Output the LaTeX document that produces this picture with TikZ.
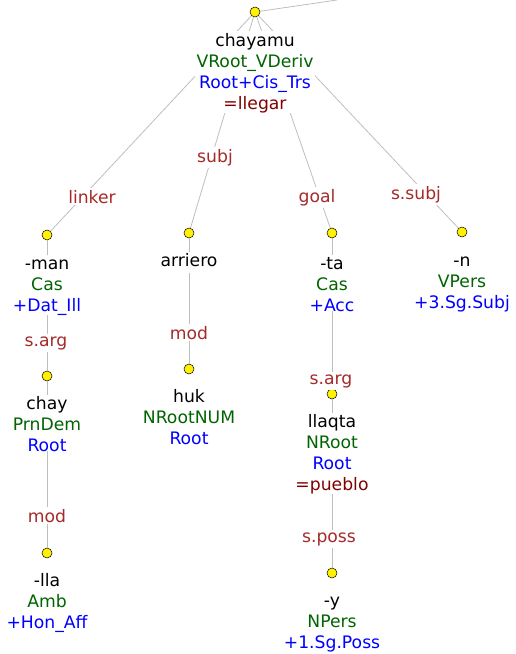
\documentclass[tikz,border=0pt]{standalone}
\usepackage{fontspec}
\setmainfont{DejaVu Sans}
\definecolor{grn}{RGB}{0,100,0}
\definecolor{blu}{RGB}{0,0,255}
\definecolor{drd}{RGB}{128,0,0}
\definecolor{lbl}{RGB}{165,42,42}
\definecolor{edg}{RGB}{190,190,190}
\newcommand\cgrn[1]{\textcolor{grn}{#1}}
\newcommand\cblu[1]{\textcolor{blu}{#1}}
\newcommand\cdrd[1]{\textcolor{drd}{#1}}
\tikzset{
  circ/.style={circle,draw=black,line width=0.5bp,fill=yellow,minimum size=10bp,inner sep=0},
  txt/.style={fill=white,inner xsep=2bp,inner ysep=0,align=center,anchor=north,
    font=\fontsize{17.2bp}{21bp}\selectfont},
  elab/.style={fill=white,inner xsep=2bp,inner ysep=2bp,anchor=base,text=lbl,
    font=\fontsize{17.2bp}{21bp}\selectfont},
  edge/.style={draw=edg,line width=0.8bp}
}
\begin{document}
\begin{tikzpicture}[x=1bp,y=-1bp]
\useasboundingbox (0,0) rectangle (516,654);
% circles
\node[circ] (r) at (255,12) {};
\node[circ] (man) at (47,235) {};
\node[circ] (chay) at (47,376) {};
\node[circ] (lla) at (47,553) {};
\node[circ] (arr) at (189,233) {};
\node[circ] (huk) at (189,369) {};
\node[circ] (ta) at (332,233) {};
\node[circ] (llq) at (332,394) {};
\node[circ] (y) at (332,573) {};
\node[circ] (n) at (462,232) {};
\coordinate (tr) at (337,0);
% edges
\draw[edge] (r) -- (tr);
\draw[edge] (r) -- (man);
\draw[edge] (r) -- (arr);
\draw[edge] (r) -- (ta);
\draw[edge] (r) -- (n);
\draw[edge] (man) -- (chay);
\draw[edge] (chay) -- (lla);
\draw[edge] (arr) -- (huk);
\draw[edge] (ta) -- (llq);
\draw[edge] (llq) -- (y);
% text blocks
\node[txt] (rt) at (255,31.3) {\strut chayamu\\\cgrn{VRoot\_VDeriv}\\\cblu{Root+Cis\_Trs}\\\cdrd{=llegar}};
\node[txt] (mant) at (47,254.3) {\strut -man\\\cgrn{Cas}\\\cblu{+Dat\_Ill}};
\node[txt] (chayt) at (47,394.3) {\strut chay\\\cgrn{PrnDem}\\\cblu{Root}};
\node[txt] (llat) at (47,571.3) {\strut -lla\\\cgrn{Amb}\\\cblu{+Hon\_Aff}};
\node[txt] (arrt) at (189,251.3) {\strut arriero};
\node[txt] (hukt) at (189,387.3) {\strut huk\\\cgrn{NRootNUM}\\\cblu{Root}};
\node[txt] (tat) at (332,254.3) {\strut -ta\\\cgrn{Cas}\\\cblu{+Acc}};
\node[txt] (llqt) at (332,412.3) {\strut llaqta\\\cgrn{NRoot}\\\cblu{Root}\\\cdrd{=pueblo}};
\node[txt] (yt) at (332,591.3) {\strut -y\\\cgrn{NPers}\\\cblu{+1.Sg.Poss}};
\node[txt] (nt) at (462,251.3) {\strut -n\\\cgrn{VPers}\\\cblu{+3.Sg.Subj}};
% edge labels
\node[elab] (l1) at (92,203) {linker};
\node[elab] (l2) at (215,162) {subj};
\node[elab] (l3) at (317,202) {goal};
\node[elab] (l4) at (416,199) {s.subj};
\node[elab] (l5) at (46,346) {s.arg};
\node[elab] (l6) at (47,522) {mod};
\node[elab] (l7) at (189,339) {mod};
\node[elab] (l8) at (331,384) {s.arg};
\node[elab] (l9) at (329,542) {s.poss};
\end{tikzpicture}
\end{document}
